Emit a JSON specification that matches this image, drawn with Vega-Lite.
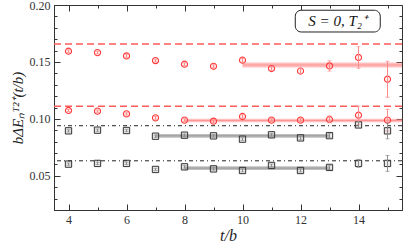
{
  "$schema": "https://vega.github.io/schema/vega-lite/v6.json",
  "autosize": {"type": "none"},
  "width": 348,
  "height": 205,
  "padding": {"left": 54, "top": 5, "right": 5, "bottom": 41},
  "config": {
    "view": {"stroke": "#333", "strokeWidth": 1},
    "axis": {"grid": false, "domainColor": "#333", "tickColor": "#333", "labelFont": "Liberation Serif", "labelFontSize": 12, "labelColor": "#333", "titleFont": "Liberation Serif", "titleFontStyle": "italic", "titleFontWeight": "normal", "titleColor": "#222"}
  },
  "datasets": {
    "pts": [
      {"t": 4, "y": 0.1594, "err": 0.0012, "s": "r"},
      {"t": 5, "y": 0.1582, "err": 0.0012, "s": "r"},
      {"t": 6, "y": 0.1553, "err": 0.0012, "s": "r"},
      {"t": 7, "y": 0.1512, "err": 0.0012, "s": "r"},
      {"t": 8, "y": 0.1480, "err": 0.0012, "s": "r"},
      {"t": 9, "y": 0.1462, "err": 0.0013, "s": "r"},
      {"t": 10, "y": 0.1515, "err": 0.0018, "s": "r"},
      {"t": 11, "y": 0.1442, "err": 0.0016, "s": "r"},
      {"t": 12, "y": 0.1420, "err": 0.0022, "s": "r"},
      {"t": 13, "y": 0.1465, "err": 0.0045, "s": "r"},
      {"t": 14, "y": 0.1539, "err": 0.0095, "s": "r"},
      {"t": 15, "y": 0.1348, "err": 0.0158, "s": "r"},
      {"t": 4, "y": 0.1074, "err": 0.0010, "s": "r"},
      {"t": 5, "y": 0.1068, "err": 0.0010, "s": "r"},
      {"t": 6, "y": 0.1044, "err": 0.0010, "s": "r"},
      {"t": 7, "y": 0.1009, "err": 0.0012, "s": "r"},
      {"t": 8, "y": 0.0989, "err": 0.0012, "s": "r"},
      {"t": 9, "y": 0.0980, "err": 0.0013, "s": "r"},
      {"t": 10, "y": 0.1021, "err": 0.0015, "s": "r"},
      {"t": 11, "y": 0.0989, "err": 0.0013, "s": "r"},
      {"t": 12, "y": 0.0989, "err": 0.0014, "s": "r"},
      {"t": 13, "y": 0.0995, "err": 0.0030, "s": "r"},
      {"t": 14, "y": 0.1032, "err": 0.0080, "s": "r"},
      {"t": 15, "y": 0.0989, "err": 0.0095, "s": "r"},
      {"t": 4, "y": 0.0895, "err": 0.0010, "s": "k"},
      {"t": 5, "y": 0.0901, "err": 0.0010, "s": "k"},
      {"t": 6, "y": 0.0898, "err": 0.0010, "s": "k"},
      {"t": 7, "y": 0.0848, "err": 0.0010, "s": "k"},
      {"t": 8, "y": 0.0857, "err": 0.0011, "s": "k"},
      {"t": 9, "y": 0.0851, "err": 0.0011, "s": "k"},
      {"t": 10, "y": 0.0822, "err": 0.0012, "s": "k"},
      {"t": 11, "y": 0.0860, "err": 0.0012, "s": "k"},
      {"t": 12, "y": 0.0833, "err": 0.0013, "s": "k"},
      {"t": 13, "y": 0.0853, "err": 0.0020, "s": "k"},
      {"t": 14, "y": 0.0947, "err": 0.0030, "s": "k"},
      {"t": 15, "y": 0.0895, "err": 0.0070, "s": "k"},
      {"t": 4, "y": 0.0603, "err": 0.0010, "s": "k"},
      {"t": 5, "y": 0.0609, "err": 0.0010, "s": "k"},
      {"t": 6, "y": 0.0609, "err": 0.0010, "s": "k"},
      {"t": 7, "y": 0.0556, "err": 0.0010, "s": "k"},
      {"t": 8, "y": 0.0579, "err": 0.0011, "s": "k"},
      {"t": 9, "y": 0.0561, "err": 0.0011, "s": "k"},
      {"t": 10, "y": 0.0547, "err": 0.0012, "s": "k"},
      {"t": 11, "y": 0.0591, "err": 0.0012, "s": "k"},
      {"t": 12, "y": 0.0547, "err": 0.0013, "s": "k"},
      {"t": 13, "y": 0.0574, "err": 0.0018, "s": "k"},
      {"t": 14, "y": 0.0609, "err": 0.0035, "s": "k"},
      {"t": 15, "y": 0.0609, "err": 0.0070, "s": "k"}
    ],
    "bands": [
      {"x1": 10, "x2": 15.5, "lo": 0.1451, "hi": 0.1495, "mid": 0.1473, "c": "r"},
      {"x1": 8, "x2": 15.5, "lo": 0.0971, "hi": 0.1001, "mid": 0.0986, "c": "r"},
      {"x1": 7, "x2": 13, "lo": 0.0835, "hi": 0.0867, "mid": 0.0851, "c": "k"},
      {"x1": 8, "x2": 13, "lo": 0.0552, "hi": 0.0584, "mid": 0.0568, "c": "k"}
    ],
    "redlines": [{"y": 0.1658}, {"y": 0.1111}],
    "blacklines": [{"y": 0.0940}, {"y": 0.0632}],
    "box": [{"x1": 11.82, "x2": 14.75, "y1": 0.1763, "y2": 0.1954, "tx": 13.28, "ty": 0.1858, "label": "S = 0, T₂⁺"}]
  },
  "layer": [
    {
      "data": {"name": "bands"},
      "mark": {"type": "rect", "opacity": 0.55},
      "encoding": {
        "x": {"field": "x1", "type": "quantitative", "axis": null},
        "x2": {"field": "x2"},
        "y": {"field": "lo", "type": "quantitative", "axis": null},
        "y2": {"field": "hi"},
        "color": {"field": "c", "type": "nominal", "scale": {"domain": ["r", "k"], "range": ["#ff8a8a", "#8c8c8c"]}, "legend": null}
      }
    },
    {
      "data": {"name": "bands"},
      "mark": {"type": "rule", "strokeWidth": 1, "opacity": 0.8},
      "encoding": {
        "x": {"field": "x1", "type": "quantitative", "axis": null},
        "x2": {"field": "x2"},
        "y": {"field": "mid", "type": "quantitative", "axis": null},
        "color": {"field": "c", "type": "nominal", "scale": {"domain": ["r", "k"], "range": ["#ff7070", "#777777"]}, "legend": null}
      }
    },
    {
      "data": {"name": "redlines"},
      "mark": {"type": "rule", "color": "#ff5b5b", "strokeWidth": 1.6, "strokeDash": [7, 4]},
      "encoding": {"y": {"field": "y", "type": "quantitative", "axis": null}}
    },
    {
      "data": {"name": "blacklines"},
      "mark": {"type": "rule", "color": "#222", "strokeWidth": 1, "strokeDash": [4, 3, 1, 3]},
      "encoding": {"y": {"field": "y", "type": "quantitative", "axis": null}}
    },
    {
      "data": {"name": "pts"},
      "transform": [{"filter": "datum.s === 'r'"}],
      "mark": {"type": "point", "shape": "circle", "size": 38, "stroke": "#ff3b3b", "strokeWidth": 1.1, "fill": "#ffc0c0", "fillOpacity": 0.3},
      "encoding": {
        "x": {"field": "t", "type": "quantitative", "scale": {"domain": [3.5, 15.5], "nice": false, "zero": false},
          "axis": {"orient": "bottom", "values": [4, 5, 6, 7, 8, 9, 10, 11, 12, 13, 14, 15], "labelExpr": "datum.value % 2 === 0 ? datum.label : ''", "tickSize": {"condition": {"test": "datum.value % 2 === 0", "value": -6}, "value": -3}, "labelPadding": 10, "title": "t/b", "titleFontSize": 16, "titlePadding": 2}},
        "y": {"field": "y", "type": "quantitative", "scale": {"domain": [0.02, 0.2], "nice": false, "zero": false},
          "axis": {"orient": "left", "values": [0.02, 0.03, 0.04, 0.05, 0.06, 0.07, 0.08, 0.09, 0.1, 0.11, 0.12, 0.13, 0.14, 0.15, 0.16, 0.17, 0.18, 0.19, 0.2], "format": ".2f", "labelExpr": "round(datum.value * 100) % 5 === 0 ? datum.label : ''", "tickSize": {"condition": {"test": "round(datum.value * 100) % 5 === 0", "value": -6}, "value": -3}, "labelPadding": 10, "title": "bΔEₙᵀ²⁺(t/b)", "titleFontSize": 15, "titlePadding": 4}}
      }
    },
    {
      "data": {"name": "pts"},
      "transform": [{"filter": "datum.s === 'k'"}],
      "mark": {"type": "point", "shape": "square", "size": 40, "stroke": "#333", "strokeWidth": 1, "fill": "#bbb", "fillOpacity": 0.3},
      "encoding": {
        "x": {"field": "t", "type": "quantitative", "axis": null},
        "y": {"field": "y", "type": "quantitative", "axis": null}
      }
    },
    {
      "data": {"name": "pts"},
      "mark": {"type": "errorbar", "ticks": {"size": 4}, "thickness": 1},
      "encoding": {
        "x": {"field": "t", "type": "quantitative", "axis": null},
        "y": {"field": "y", "type": "quantitative", "axis": null},
        "yError": {"field": "err"},
        "color": {"field": "s", "type": "nominal", "scale": {"domain": ["r", "k"], "range": ["#ff3b3b", "#222222"]}, "legend": null}
      }
    },
    {
      "data": {"name": "box"},
      "mark": {"type": "rect", "fill": "white", "stroke": "#222", "strokeWidth": 1, "cornerRadius": 6},
      "encoding": {
        "x": {"field": "x1", "type": "quantitative",
          "axis": {"orient": "top", "values": [4, 5, 6, 7, 8, 9, 10, 11, 12, 13, 14, 15], "labels": false, "domain": false, "tickSize": {"condition": {"test": "datum.value % 2 === 0", "value": -6}, "value": -3}, "title": null}},
        "x2": {"field": "x2"},
        "y": {"field": "y1", "type": "quantitative",
          "axis": {"orient": "right", "values": [0.02, 0.03, 0.04, 0.05, 0.06, 0.07, 0.08, 0.09, 0.1, 0.11, 0.12, 0.13, 0.14, 0.15, 0.16, 0.17, 0.18, 0.19, 0.2], "labels": false, "domain": false, "tickSize": {"condition": {"test": "round(datum.value * 100) % 5 === 0", "value": -6}, "value": -3}, "title": null}},
        "y2": {"field": "y2"}
      }
    },
    {
      "data": {"name": "box"},
      "mark": {"type": "text", "font": "Liberation Serif", "fontStyle": "italic", "fontSize": 15, "color": "#111", "baseline": "middle", "align": "center"},
      "encoding": {
        "x": {"field": "tx", "type": "quantitative", "axis": null},
        "y": {"field": "ty", "type": "quantitative", "axis": null},
        "text": {"field": "label"}
      }
    }
  ],
  "resolve": {"axis": {"x": "independent", "y": "independent"}}
}
